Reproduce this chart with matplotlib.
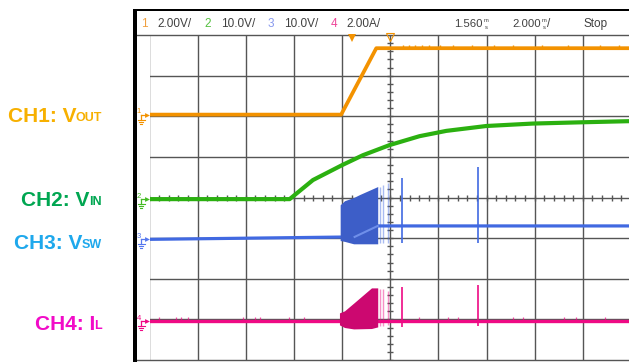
import numpy as np
import matplotlib
matplotlib.use("Agg")
import matplotlib.pyplot as plt
from matplotlib.patches import Rectangle

plt.rcParams["font.family"] = ["Liberation Sans", "DejaVu Sans"]

W, H = 629, 362

# time in ms, 0 = centre of screen (2 ms/div)
# per channel: units per division and ground marker position (div from bottom)
ch_scale = {1: 2.0, 2: 10.0, 3: 10.0, 4: 2.0}
ch_ground = {1: 6.04, 2: 3.96, 3: 2.97, 4: 0.95}

# CH1 Vout (V)
vout_t = [-10.0, -2.04, -0.58, 10.0]
vout_v = [0.0, 0.0, 3.27, 3.27]
vout_glitch_t = [0.55, 0.78, 1.02, 1.30, 1.62, 2.05, 2.60, 3.40, 4.30, 5.10, 6.30, 7.40, 8.70, 9.50]

# CH2 Vin (V)
vin_t = [-10.0, -4.18, -3.21, -1.99, -1.14, -0.03, 1.22, 2.33, 3.99, 5.92, 7.86, 10.0]
vin_v = [0.0, 0.0, 4.7, 8.4, 10.8, 13.3, 15.5, 16.8, 18.0, 18.6, 18.9, 19.2]

# CH3 Vsw (V)
vsw_t = [-10.0, -1.48, -0.52, 10.0]
vsw_v = [0.0, 0.6, 3.3, 3.3]
vsw_burst_t = [-2.08, -1.90, -1.52, -1.28, -0.52]
vsw_burst_hi = [8.5, 9.5, 10.3, 11.0, 13.0]
vsw_burst_lo = [-0.3, -0.5, -1.1, -1.1, -1.1]
vsw_spike_t = [-0.42, -0.31, -0.10, 0.48, 3.65]
vsw_spike_hi = [13.0, 13.4, 13.9, 15.1, 17.9]
vsw_spike_lo = [-1.0, -1.0, -0.8, -0.9, -0.9]

# CH4 inductor current (A)
il_t = [-10.0, 10.0]
il_v = [0.0, 0.0]
il_burst_t = [-2.11, -1.90, -1.52, -0.78, -0.52]
il_burst_hi = [0.42, 0.52, 0.90, 1.65, 1.65]
il_burst_lo = [-0.17, -0.30, -0.37, -0.35, -0.27]
il_spike_t = [-0.42, -0.31, -0.10, 0.48, 3.65]
il_spike_hi = [1.60, 1.60, 1.50, 1.71, 1.80]
il_spike_lo = [-0.25, -0.25, -0.20, -0.27, -0.25]
il_glitch_t = [-9.6, -8.9, -8.7, -8.4, -6.1, -5.6, -5.4, -4.2, -3.6, 1.2, 2.4, 2.8, 5.1, 5.5, 7.2, 7.7, 8.9]

ORANGE = "#f39200"
GREEN = "#2bb010"
BLUE = "#4169e1"
PINK = "#ee0a84"
GRID = "#555555"


def div(ch, vals):
    return ch_ground[ch] + np.asarray(vals, dtype=float) / ch_scale[ch]


def px_t(px):
    return (px - 390.7) / 24.075


def px_dy(px):
    return px / 40.625


fig = plt.figure(figsize=(W / 100, H / 100), dpi=100)
ax = fig.add_axes([149.5 / W, 2 / H, 481.5 / W, 325 / H])
ax.set_xlim(-10, 10)
ax.set_ylim(0, 8)
ax.axis("off")

# graticule
for t in range(-10, 11, 2):
    ax.axvline(t, color=GRID, lw=1.0, zorder=1)
for y in range(1, 8):
    ax.axhline(y, color=GRID, lw=1.0, zorder=1)
for y in (0, 8):
    ax.plot([px_t(137), 10], [y, y], color=GRID, lw=1.0, zorder=1, clip_on=False)
ax.plot(np.zeros(41), np.linspace(0, 8, 41), ls="none", marker="_", ms=4.5,
        mew=1.0, color=GRID, zorder=1)
ax.plot(np.linspace(-10, 10, 51), np.full(51, 4.0), ls="none", marker="|", ms=4.5,
        mew=1.0, color=GRID, zorder=1)

# CH1
ax.plot(vout_t, div(1, vout_v), color=ORANGE, lw=2.7, zorder=5, solid_capstyle="butt")
ax.vlines(vout_glitch_t, div(1, 3.27), div(1, 3.27) + px_dy(3.5), color=ORANGE, lw=1.0, zorder=5)

# CH2
ax.plot(vin_t, div(2, vin_v), color=GREEN, lw=3.0, zorder=4, solid_capstyle="butt")

# CH3
ax.plot(vsw_t, div(3, vsw_v), color=BLUE, lw=2.3, zorder=3, solid_capstyle="butt")
ax.fill_between(vsw_burst_t, div(3, vsw_burst_lo), div(3, vsw_burst_hi),
                color="#3d5ec8", lw=0, zorder=3)
ax.plot(vsw_t[1:3], div(3, vsw_v[1:3]), color="#6f8fea", lw=1.5, zorder=3)
ax.vlines(vsw_spike_t[:3], div(3, vsw_spike_lo[:3]), div(3, vsw_spike_hi[:3]),
          color=BLUE, lw=1.0, alpha=0.45, zorder=3)
ax.vlines(vsw_spike_t[3:], div(3, vsw_spike_lo[3:]), div(3, vsw_spike_hi[3:]),
          color=BLUE, lw=1.2, zorder=3)

# CH4
ax.plot(il_t, div(4, il_v), color=PINK, lw=2.4, zorder=3, solid_capstyle="butt")
ax.fill_between(il_burst_t, div(4, il_burst_lo), div(4, il_burst_hi),
                color="#cc0870", lw=0, zorder=3)
ax.vlines(il_spike_t[:3], div(4, il_spike_lo[:3]), div(4, il_spike_hi[:3]),
          color=PINK, lw=1.0, alpha=0.45, zorder=3)
ax.vlines(il_spike_t[3:], div(4, il_spike_lo[3:]), div(4, il_spike_hi[3:]),
          color=PINK, lw=1.2, zorder=3)
ax.vlines(il_glitch_t, div(4, 0), div(4, 0) + px_dy(4), color=PINK, lw=0.9,
          alpha=0.7, zorder=3)

# channel ground markers at the left edge
for ch, col in zip((1, 2, 3, 4), (ORANGE, "#44bb22", "#5577ee", PINK)):
    g = ch_ground[ch]
    ax.text(px_t(139), g + px_dy(3), str(ch), color=col, fontsize=5.5,
            ha="center", va="center", clip_on=False)
    ax.plot([px_t(141), px_t(146)], [g, g], color=col, lw=0.9, clip_on=False)
    ax.plot([px_t(147.3)], [g], marker=">", ms=3.5, color=col, mew=0, clip_on=False)
    ax.plot([px_t(141.5), px_t(141.5)], [g, g - px_dy(5)], color=col, lw=0.9, clip_on=False)
    for k, half in enumerate((3.5, 2.3, 1.0)):
        yy = g - px_dy(5 + 2 * k)
        ax.plot([px_t(141.5 - half), px_t(141.5 + half)], [yy, yy], color=col, lw=0.8,
                clip_on=False)

# trigger markers
ax.plot([px_t(352.7)], [8 - px_dy(2.5)], marker="v", ms=6, color=ORANGE, mew=0,
        clip_on=False, zorder=6)
ax.plot([px_t(390.7)], [8 - px_dy(2)], marker="v", ms=6, mfc="none", mec=ORANGE,
        mew=0.8, clip_on=False, zorder=6)

# frame pieces of the screen
fig.add_artist(Rectangle((133 / W, 0), 4 / W, 1 - 9 / H, transform=fig.transFigure,
                         color="black", lw=0))
fig.add_artist(Rectangle((133 / W, 1 - 11 / H), 1, 2 / H, transform=fig.transFigure,
                         color="black", lw=0))


def ftext(x, y, s, **kw):
    return fig.text(x / W, 1 - y / H, s, **kw)


# status line
hdr = dict(fontsize=8.5, va="center", ha="left", color="#404040")
small = {**hdr, "fontsize": 4.2, "ha": "center"}
ftext(141, 24, "1", **{**hdr, "color": "#f0a040"})
ftext(157.5, 24, "2.00V/", **hdr)
ftext(204.5, 24, "2", **{**hdr, "color": "#55c040"})
ftext(221.5, 24, "10.0V/", **hdr)
ftext(267.5, 24, "3", **{**hdr, "color": "#8899ee"})
ftext(284, 24, "10.0V/", **hdr)
ftext(330.5, 24, "4", **{**hdr, "color": "#ee4499"})
ftext(346.5, 24, "2.00A/", **hdr)
ftext(454, 24, "1.560", **{**hdr, "fontsize": 8.2})
ftext(486, 20.8, "m", **small)
ftext(486, 27.6, "s", **small)
ftext(512, 24, "2.000", **{**hdr, "fontsize": 8.2})
ftext(544, 20.8, "m", **small)
ftext(544, 27.6, "s", **small)
ftext(547, 24, "/", **hdr)
ftext(583, 24, "Stop", **hdr)

# channel names: subscript right-aligned, main text placed just left of it
labels = [("CH1: V", "OUT", 120.7, "#f7b000"),
          ("CH2: V", "IN", 205.3, "#00a651"),
          ("CH3: V", "SW", 248.3, "#1ea8ec"),
          ("CH4: I", "L", 329.3, "#f20bc8")]
for main, sub, base, col in labels:
    s = ftext(102, base, sub, fontsize=9, fontweight="bold", color=col,
              ha="right", va="baseline")
    ax.annotate(main, xy=(0, 0), xycoords=s, xytext=(0.3, -1.4),
                textcoords="offset points", fontsize=15, fontweight="bold",
                color=col, ha="right", va="bottom", annotation_clip=False)

fig.savefig("out.png", dpi=100)
